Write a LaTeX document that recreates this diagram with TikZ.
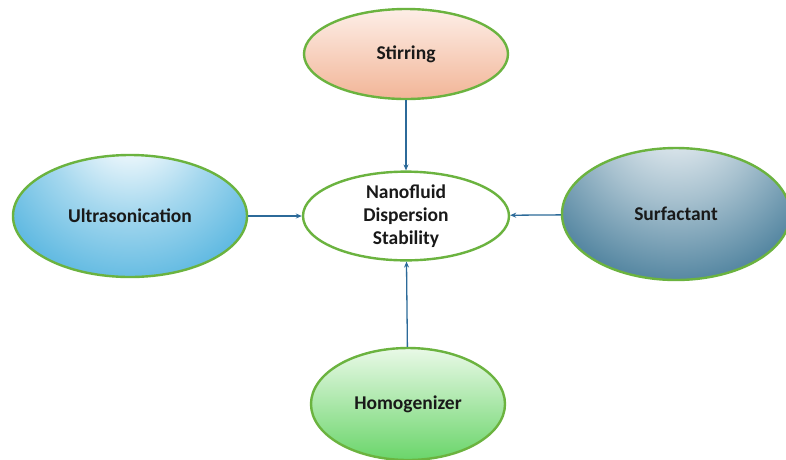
\documentclass[tikz,border=0pt]{standalone}
\usepackage{fontspec}
\setmainfont{Carlito}
\usetikzlibrary{shapes.geometric,arrows.meta}
\definecolor{rimgreen}{HTML}{6BB33F}
\definecolor{linkblue}{HTML}{2C6A99}
\definecolor{peachtop}{HTML}{FDEEE7}
\definecolor{peachbot}{HTML}{F2B597}
\definecolor{skyblue}{HTML}{38A8DA}
\definecolor{steelteal}{HTML}{2E6B8C}
\definecolor{minttop}{HTML}{E9F9E7}
\definecolor{mintbot}{HTML}{6AD56A}
\pgfdeclareradialshading{ultrashade}{\pgfpoint{0bp}{17bp}}{
    color(0bp)=(white); color(3bp)=(white); color(14bp)=(skyblue!45); color(28bp)=(skyblue!92); color(34bp)=(skyblue); color(100bp)=(skyblue)
}
\pgfdeclareradialshading{surfshade}{\pgfpoint{0bp}{19bp}}{
    color(0bp)=(white!95!steelteal); color(3bp)=(white!92!steelteal); color(14bp)=(steelteal!42); color(28bp)=(steelteal!90); color(34bp)=(steelteal); color(100bp)=(steelteal)
}
\tikzstyle{bubble} = [ellipse,draw=rimgreen,line width=2.4pt,inner sep=0pt,
    text=black!90,font=\fontsize{19.5}{23}\selectfont\bfseries
]
\tikzset{glow/.style={path picture={
    \shade[shading=#1] ([shift={(-150pt,-150pt)}]path picture bounding box.center) rectangle ++(300pt,300pt);
}}}
\tikzstyle{link} = [draw=linkblue,line width=1.3pt,-{Stealth[length=6pt,width=5pt]}]

\begin{document}
\begin{tikzpicture}[x=1pt,y=-1pt]
	\useasboundingbox[fill=white] (0,0) rectangle (786,459);

	\node(hub) at (406,216) [bubble, minimum width=206pt, minimum height=84pt, fill=white, align=center] {Nanofluid\\Dispersion\\Stability};
	
	\node(stir) at (406,54) [bubble, minimum width=204pt, minimum height=90pt, top color=peachtop, bottom color=peachbot] {Stirring};
	
	\node(ultra) at (130,216) [bubble, minimum width=234pt, minimum height=122pt, glow=ultrashade] {Ultrasonication};
	
	\node(surf) at (676,214) [bubble, minimum width=228pt, minimum height=132pt, glow=surfshade] {Surfactant};
	
	\node(homo) at (408,404) [bubble, minimum width=194pt, minimum height=112pt, top color=minttop, bottom color=mintbot] {Homogenizer};
	
	\draw[link] (stir) -- (hub);
	\draw[link] (ultra) -- (hub);
	\draw[link] (surf) -- (hub);
	\draw[link] (homo) -- (hub);
\end{tikzpicture}
\end{document}
